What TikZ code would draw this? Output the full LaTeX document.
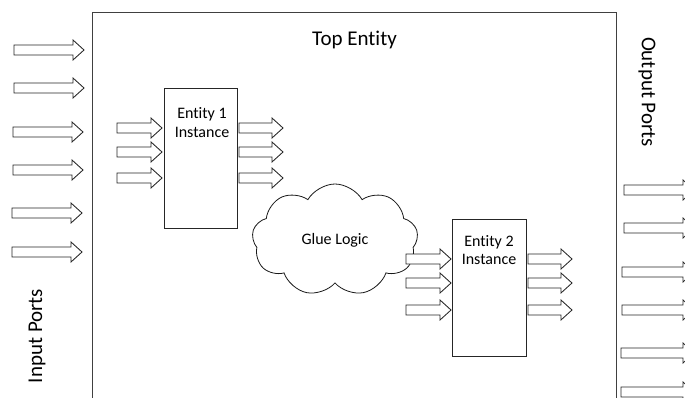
\documentclass[tikz,border=0pt]{standalone}
\usepackage{fontspec}
\setmainfont[Ligatures=NoCommon]{Carlito}
\usetikzlibrary{shapes.symbols}

% block arrow: tail at (#1,#2), total length #3
\newcommand\portarrow[3]{%
  \draw[portline] (#1,#2) ++(0,-5) -- ++(#3-11,0) -- ++(0,-5) -- ++(11,10)
    -- ++(-11,10) -- ++(0,-5) -- ++(-#3+11,0) -- cycle;}

\tikzset{
  portline/.style={draw=black!85, line width=0.85pt, fill=white, line join=miter},
  entitybox/.style={draw=black!85, line width=0.9pt, rectangle, inner sep=0pt},
  smalltext/.style={font=\fontsize{16}{19}\selectfont, inner sep=0pt, align=center},
  bigtext/.style={font=\fontsize{21}{25}\selectfont, inner sep=0pt},
}

\begin{document}
\begin{tikzpicture}[x=1pt, y=-1pt]
\useasboundingbox (0,0) rectangle (685,398);
\clip (0,0) rectangle (685,398);

% top-level entity frame (runs off the bottom)
\node[entitybox, draw=black!75, anchor=north west, minimum width=524, minimum height=420] (top) at (92,12) {};
\node[bigtext, anchor=north] (toplabel) at (354.5,31) {Top Entity};

% input ports
\portarrow{14}{50}{70}
\portarrow{14}{88}{70}
\portarrow{13}{132}{70}
\portarrow{13}{170}{70}
\portarrow{12}{213}{70}
\portarrow{12}{252}{70}
\node[bigtext, rotate=90] (inlabel) at (37,336) {Input Ports};

% output ports (heads run past the right edge)
\portarrow{624}{190}{70}
\portarrow{624}{228}{70}
\portarrow{622}{272}{72}
\portarrow{622}{310}{72}
\portarrow{621}{353}{73}
\portarrow{621}{392}{73}
\node[bigtext, rotate=-90] (outlabel) at (647,92) {Output Ports};

% entity 1 instance
\node[entitybox, minimum width=73, minimum height=140] (e1) at (200.5,158) {};
\node[smalltext, anchor=north] (e1label) at (202,107) {Entity 1\\Instance};
\portarrow{117}{128}{45}
\portarrow{117}{152}{45}
\portarrow{117}{178}{45}
\portarrow{239}{128}{44}
\portarrow{239}{152}{44}
\portarrow{239}{178}{44}

% glue logic
\node[cloud, draw=black!90, line width=0.8pt, cloud puffs=9, cloud puff arc=120, aspect=1.5,
      minimum width=166, minimum height=112, inner sep=0pt,
      font=\fontsize{16}{19}\selectfont] (glue) at (335,240) {Glue Logic};

% entity 2 instance
\node[entitybox, minimum width=74, minimum height=137] (e2) at (489,287.5) {};
\node[smalltext, anchor=north, font=\fontsize{16}{18}\selectfont] (e2label) at (489,235) {Entity 2\\Instance};
\portarrow{406}{259}{45}
\portarrow{406}{283}{45}
\portarrow{406}{310}{45}
\portarrow{528}{259}{44}
\portarrow{528}{283}{44}
\portarrow{528}{310}{44}
\end{tikzpicture}
\end{document}
